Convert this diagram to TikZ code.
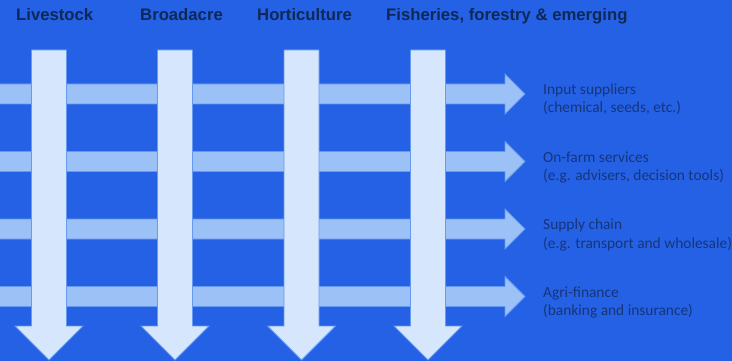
\documentclass[tikz,border=0pt]{standalone}
\usepackage{fontspec}
\setmainfont{Carlito}
\newfontfamily\hdrfont{Liberation Sans}
\definecolor{bgblue}{HTML}{2461E4}
\definecolor{hfill}{HTML}{9CC1F6}
\definecolor{vfill}{HTML}{D6E6FD}
\definecolor{edgeblue}{HTML}{6699F0}
\definecolor{hdrtext}{HTML}{0F2858}
\definecolor{labtext}{HTML}{17357A}
\begin{document}
\begin{tikzpicture}[x=1pt,y=-1pt,
  hbar/.style={fill=hfill,draw=edgeblue,line width=0.8pt},
  vbar/.style={fill=vfill,draw=edgeblue,line width=0.8pt},
  hdr/.style={anchor=base west,inner sep=0pt,text=hdrtext,font=\hdrfont\bfseries\fontsize{16.7}{20}\selectfont},
  lab/.style={anchor=base west,inner sep=0pt,text=labtext,font=\fontsize{15.4}{19}\selectfont}]
\fill[bgblue] (0,0) rectangle (732,361);
\useasboundingbox (0,0) rectangle (732,361);
% horizontal arrows
\foreach \r in {94,161.5,229,296.5}{
  \path[hbar] (-2,\r-10) -- (505,\r-10) -- (505,\r-20) -- (525,\r) -- (505,\r+20) -- (505,\r+10) -- (-2,\r+10) -- cycle;
}
% vertical arrows
\foreach \c in {49,175,301.5,428}{
  \path[vbar] (\c-17.5,50) -- (\c+17.5,50) -- (\c+17.5,326) -- (\c+34,326) -- (\c,360) -- (\c-34,326) -- (\c-17.5,326) -- cycle;
}
% headers
\node[hdr] (h1) at (16,21) {Livestock};
\node[hdr] (h2) at (140,21) {Broadacre};
\node[hdr] (h3) at (257,21) {Horticulture};
\node[hdr] (h4) at (386,21) {Fisheries, forestry \& emerging};
% labels
\node[lab] (l1a) at (543,94.5) {Input suppliers};
\node[lab] (l1b) at (543,113) {(chemical, seeds, etc.)};
\node[lab] (l2a) at (543,162) {On-farm services};
\node[lab] (l2b) at (543,180.5) {(e.g. advisers, decision tools)};
\node[lab] (l3a) at (543,229.5) {Supply chain};
\node[lab] (l3b) at (543,248) {(e.g. transport and wholesale)};
\node[lab] (l4a) at (543,297) {Agri-finance};
\node[lab] (l4b) at (543,315.5) {(banking and insurance)};
\end{tikzpicture}
\end{document}
